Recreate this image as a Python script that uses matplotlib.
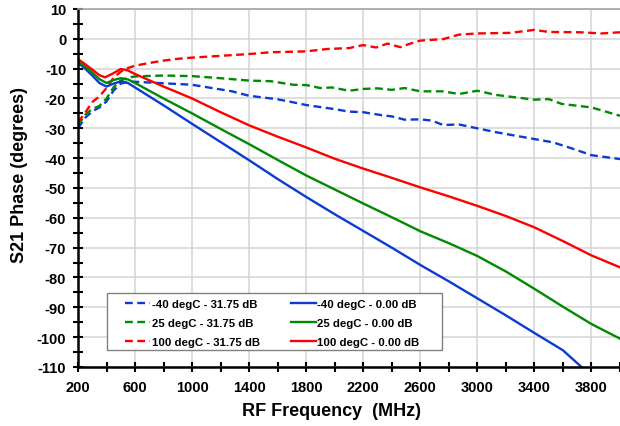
import numpy as np
import matplotlib
matplotlib.use('Agg')
import matplotlib.pyplot as plt
from matplotlib.ticker import MultipleLocator
from matplotlib.patches import Rectangle

# Datos (frecuencia en MHz, fase en grados)
f_b31 = [200, 250, 300, 350, 400, 450, 500, 550, 600, 800, 1000, 1280, 1400, 1590, 1680, 1800, 1990,
         2100, 2200, 2330, 2400, 2490, 2600, 2680, 2760, 2870, 3000, 3130, 3400, 3530, 3660, 3800, 4000]
v_b31 = [-30, -26.5, -24.3, -23, -21, -17.3, -15, -14.4, -14.4, -14.9, -15.4, -17.6, -19.1, -20.2, -21,
         -22.2, -23.5, -24.4, -24.6, -25.6, -26, -27.1, -27, -27.4, -28.9, -28.7, -30, -31.3, -33.6,
         -34.7, -36.7, -39, -40.3]

f_g31 = [200, 250, 300, 350, 400, 450, 500, 550, 600, 800, 1000, 1200, 1400, 1550, 1710, 1800, 1900,
         1980, 2100, 2200, 2300, 2400, 2490, 2600, 2760, 2870, 3000, 3130, 3400, 3500, 3590, 3800, 4000]
v_g31 = [-29, -25.5, -23.5, -22.5, -20, -16.2, -14, -13, -12.6, -12.3, -12.5, -13.2, -14, -14.2, -15.4,
         -15.5, -16.5, -16.3, -17.4, -16.8, -16.6, -17.1, -16.5, -17.6, -17.6, -18.5, -17.4, -18.8,
         -20.4, -20.2, -21.8, -23, -25.8]

f_r31 = [200, 250, 300, 350, 400, 450, 500, 550, 600, 700, 800, 900, 1000, 1200, 1400, 1550, 1800,
         1950, 2100, 2200, 2290, 2370, 2460, 2530, 2600, 2760, 2870, 3000, 3230, 3400, 3500, 3720,
         3870, 4000]
v_r31 = [-28, -24.8, -21.2, -19.3, -16.5, -13, -11, -9.8, -9.0, -8.1, -7.3, -6.7, -6.3, -5.7, -5.1,
         -4.5, -4.2, -3.4, -3.1, -2.1, -2.9, -1.6, -2.8, -1.6, -0.6, -0.1, 1.4, 1.8, 2.0, 3.0, 2.3,
         2.2, 1.8, 2.2]

f_b0 = [200, 250, 300, 350, 400, 450, 500, 550, 600, 800, 1000, 1200, 1400, 1600, 1800, 2000, 2200,
        2400, 2600, 2800, 3000, 3200, 3400, 3600, 3730]
v_b0 = [-8, -10, -12.3, -14.8, -16.0, -15.0, -14.3, -14.8, -16.3, -22.3, -28.5, -34.6, -40.7, -47,
        -53, -58.8, -64.4, -70, -75.8, -81.3, -87, -92.7, -98.6, -104.4, -110]

f_g0 = [200, 250, 300, 350, 400, 450, 500, 550, 600, 800, 1000, 1200, 1400, 1600, 1800, 2000, 2200,
        2400, 2600, 2800, 3000, 3200, 3400, 3600, 3800, 4000]
v_g0 = [-7.5, -9.3, -11.3, -13.5, -14.8, -13.8, -13.2, -13.6, -14.8, -20, -25, -30.2, -35.3, -40.6,
        -45.8, -50.5, -55.2, -59.8, -64.5, -68.5, -72.8, -78, -83.8, -89.8, -95.6, -100.5]

f_r0 = [200, 250, 300, 350, 390, 450, 500, 550, 600, 800, 1000, 1200, 1400, 1600, 1800, 2000, 2200,
        2400, 2600, 2800, 3000, 3200, 3400, 3600, 3800, 4000]
v_r0 = [-6.8, -8.5, -10.3, -12.2, -12.9, -11.5, -10.1, -10.6, -11.8, -16, -20, -24.6, -29, -32.8,
        -36.4, -40.2, -43.5, -46.6, -49.8, -52.8, -56, -59.4, -63.2, -67.8, -72.6, -76.6]

plt.rcParams['font.family'] = ['Liberation Sans', 'DejaVu Sans']
plt.rcParams['font.weight'] = 'bold'
plt.rcParams['axes.unicode_minus'] = False

azul = '#0a3cd2'
verde = '#008a00'
rojo = '#ff0000'
guion = (0, (3.3, 1.9))

fig = plt.figure(figsize=(6.2, 4.27), dpi=100)
ax = fig.add_axes([0.1258, 0.1382, 0.8742, 0.8384])

ax.plot(f_b31, v_b31, color=azul, lw=1.7, ls=guion, label='-40 degC - 31.75 dB')
ax.plot(f_g31, v_g31, color=verde, lw=1.7, ls=guion, label='25 degC - 31.75 dB')
ax.plot(f_r31, v_r31, color=rojo, lw=1.7, ls=guion, label='100 degC - 31.75 dB')
ax.plot(f_b0, v_b0, color=azul, lw=1.7, label='-40 degC - 0.00 dB')
ax.plot(f_g0, v_g0, color=verde, lw=1.7, label='25 degC - 0.00 dB')
ax.plot(f_r0, v_r0, color=rojo, lw=1.7, label='100 degC - 0.00 dB')

ax.set_xlim(200, 4000)
ax.set_ylim(-110, 10)
ax.set_xticks(np.arange(200, 4000, 400))
ax.xaxis.set_minor_locator(MultipleLocator(200))
ax.yaxis.set_major_locator(MultipleLocator(10))
ax.yaxis.set_minor_locator(MultipleLocator(5))
ax.grid(True, which='major', color='#d4d4d4', lw=1.1)
ax.set_axisbelow(True)

ax.tick_params(which='both', direction='inout', length=7, width=1.5, color='black')
ax.tick_params(axis='both', which='major', labelsize=10.5)
ax.tick_params(axis='x', pad=6)
ax.tick_params(axis='y', pad=5)

for s in ['left', 'bottom']:
    ax.spines[s].set_linewidth(1.8)
ax.spines['top'].set_color('#a6a6a6')
ax.spines['top'].set_linewidth(1.2)
ax.spines['right'].set_visible(False)

ax.set_xlabel('RF Frequency  (MHz)', fontsize=13, fontweight='bold')
ax.set_ylabel('S21 Phase (degrees)', fontsize=13, fontweight='bold')
ax.xaxis.set_label_coords(0.467, -0.098)
ax.yaxis.set_label_coords(-0.092, 0.54)

# recuadro de la leyenda
caja = Rectangle((0.0535, 0.0475), 0.618, 0.159, transform=ax.transAxes, facecolor='white',
                 edgecolor='#808080', lw=1.0, zorder=4)
ax.add_patch(caja)

leg = ax.legend(ncol=2, loc='upper left', bbox_to_anchor=(0.0867, 0.19), borderaxespad=0,
                fontsize=8.2, handlelength=2.2, handletextpad=0.15, columnspacing=2.7,
                labelspacing=0.8, frameon=False, borderpad=0)
leg.set_zorder(5)

fig.savefig('out.png', dpi=100)
